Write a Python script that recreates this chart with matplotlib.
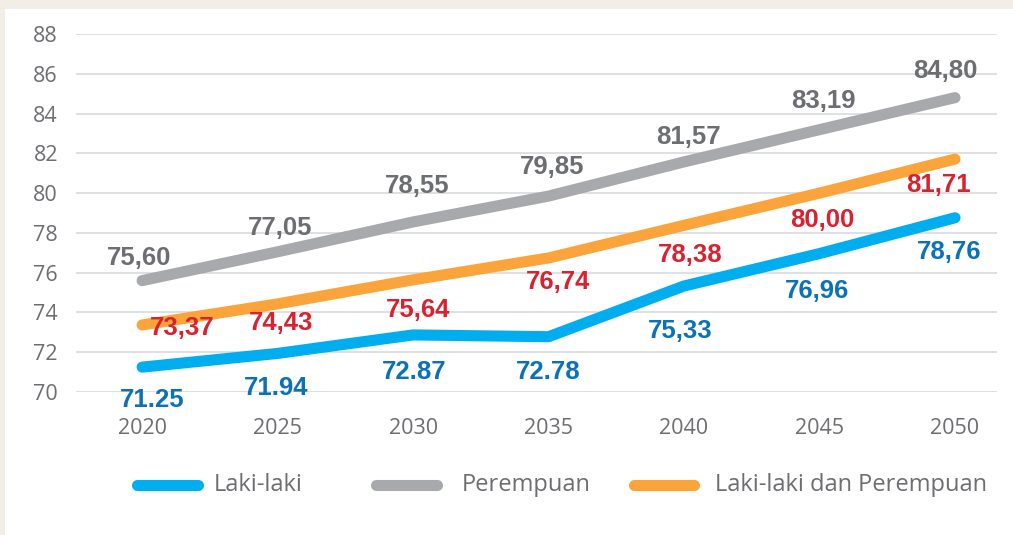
import matplotlib.pyplot as plt
from matplotlib.lines import Line2D
from matplotlib.patches import Rectangle

# Data: life expectancy projections
tahun = [2020, 2025, 2030, 2035, 2040, 2045, 2050]
laki = [71.25, 71.94, 72.87, 72.78, 75.33, 76.96, 78.76]
perempuan = [75.60, 77.05, 78.55, 79.85, 81.57, 83.19, 84.80]
gabungan = [73.37, 74.43, 75.64, 76.74, 78.38, 80.00, 81.71]

label_laki = ['71.25', '71.94', '72.87', '72.78', '75,33', '76,96', '78,76']
label_perempuan = ['75,60', '77,05', '78,55', '79,85', '81,57', '83,19', '84,80']
label_gabungan = ['73,37', '74,43', '75,64', '76,74', '78,38', '80,00', '81,71']

legend_names = ['Laki-laki', 'Perempuan', 'Laki-laki dan Perempuan']

# colours
c_laki, c_perempuan, c_gabungan = '#00aeef', '#a7a9ac', '#fba43b'
t_laki, t_perempuan, t_gabungan = '#0b72b9', '#6d6e71', '#d9222f'
c_text = '#6d6e71'

num_font = 'Liberation Sans'
txt_font = 'Open Sans'

fig = plt.figure(figsize=(10.13, 5.35), dpi=100, facecolor='#f2ede6')
fig.add_artist(Rectangle((5 / 1013, 0), 1, 1 - 9 / 535, transform=fig.transFigure,
                         facecolor='white', edgecolor='none', zorder=-10))

ax = fig.add_axes([76 / 1013, 1 - 392 / 535, 921 / 1013, 358 / 535])
ax.set_facecolor('none')
ax.set_xlim(2017.56, 2051.55)
ax.set_ylim(70, 88)
ax.set_yticks(range(70, 89, 2))
ax.set_xticks(tahun)
ax.grid(axis='y', color='#dcdddf', linewidth=1.3)
ax.grid(axis='x', visible=False)
for s in ax.spines.values():
    s.set_visible(False)
ax.tick_params(length=0, labelsize=15.5, labelcolor=c_text)
ax.tick_params(axis='y', pad=13)
ax.tick_params(axis='x', pad=19)
for lab in ax.get_xticklabels() + ax.get_yticklabels():
    lab.set_fontfamily(txt_font)

lw = 8
ax.plot(tahun, perempuan, color=c_perempuan, lw=lw, solid_capstyle='round', solid_joinstyle='round', zorder=3)
ax.plot(tahun, gabungan, color=c_gabungan, lw=lw, solid_capstyle='round', solid_joinstyle='round', zorder=3)
ax.plot(tahun, laki, color=c_laki, lw=lw, solid_capstyle='round', solid_joinstyle='round', zorder=3)

# label offsets in pixels (dx, dy)
off_perempuan = [(-3, 23), (3, 24), (4, 36), (4, 29), (4, 25), (4, 29), (-10, 27)]
off_gabungan = [(40, -3), (3, -19), (5, -30), (10, -24), (6, -30), (3, -27), (-17, -26)]
off_laki = [(10, -33), (-1, -35), (1, -37), (0, -35), (-4, -45), (-3, -37), (-6, -34)]

def put_labels(vals, texts, offs, color):
    for x, y, t, (dx, dy) in zip(tahun, vals, texts, offs):
        ax.annotate(t, (x, y), xytext=(dx, dy), textcoords='offset pixels',
                    ha='center', va='center', color=color, fontsize=18.5,
                    fontweight='bold', family=num_font, zorder=5)

put_labels(perempuan, label_perempuan, off_perempuan, t_perempuan)
put_labels(gabungan, label_gabungan, off_gabungan, t_gabungan)
put_labels(laki, label_laki, off_laki, t_laki)

# legend row (handles drawn by hand, round caps add ~5px at each end)
leg_y = 1 - 485 / 535
for (x0, x1, xt), col, name in zip([(137, 198, 214), (376, 437, 462), (634, 694, 715)],
                                   [c_laki, c_perempuan, c_gabungan], legend_names):
    fig.add_artist(Line2D([x0 / 1013, x1 / 1013], [leg_y, leg_y], transform=fig.transFigure,
                          color=col, lw=lw, solid_capstyle='round'))
    fig.text(xt / 1013, leg_y, name, ha='left', va='center', fontsize=17,
             color=c_text, family=txt_font)

fig.savefig('out.png', dpi=100, facecolor=fig.get_facecolor())
